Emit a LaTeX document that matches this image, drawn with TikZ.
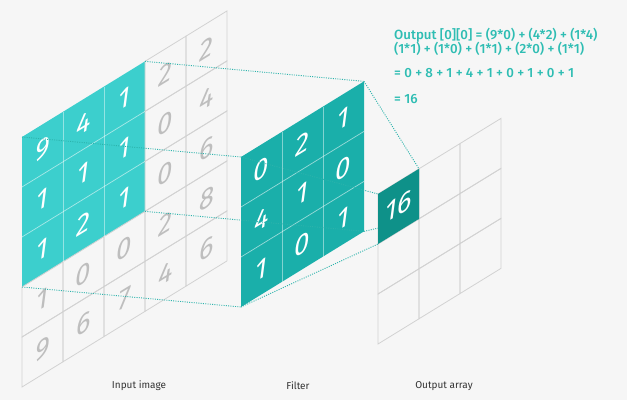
\documentclass[tikz,border=0pt]{standalone}
\usepackage{fontspec}
\setmainfont{Fira Sans}
\newfontfamily\digitfont{Fira Sans Italic}
\newfontfamily\formulafont{Fira Sans Medium}
\usetikzlibrary{positioning}
\definecolor{bggray}{HTML}{F6F6F6}
\definecolor{gridgray}{HTML}{D2D2D2}
\definecolor{digitgray}{HTML}{BEBEBE}
\definecolor{tealin}{HTML}{3CCFCD}
\definecolor{tealflt}{HTML}{1AAFAA}
\definecolor{tealout}{HTML}{0E9189}
\definecolor{textteal}{HTML}{2EBDB3}
\definecolor{guideteal}{HTML}{2BB3AC}
\definecolor{labelgray}{HTML}{333333}
\tikzset{
	cell/.style={minimum width=41pt, minimum height=50pt, inner sep=0pt, outer sep=0pt,
		font=\digitfont\fontsize{27.5}{27.5}\selectfont},
	graycell/.style={cell, draw=gridgray, line width=0.8pt, text=digitgray},
	tealcell/.style={cell, fill=#1, text=white},
	incell/.style={tealcell=tealin},
	innerline/.style={draw=white, draw opacity=0.45, line width=0.8pt},
	guide/.style={draw=guideteal, line width=0.9pt, dash pattern=on 1pt off 1.3pt},
	caption/.style={font=\fontsize{10}{12}\selectfont, text=labelgray},
	formula/.style={anchor=base west, inner sep=0pt, text=textteal,
		font=\formulafont\fontsize{13.3}{15}\selectfont},
}

\begin{document}
\begin{tikzpicture}[x=1pt, y=-1pt]
% the background
\fill[bggray] (0,0) rectangle (627,400);
\useasboundingbox (0,0) rectangle (627,400);

% the input image
\begin{scope}[shift={(22,137)}, yslant=0.615, transform shape]
\foreach \vals [count=\r] in {{9,4,1,2,2},{1,1,1,0,4},{1,2,1,0,6},{1,0,0,2,8},{9,6,7,4,6}}
	\foreach \v [count=\c] in \vals {
		\def\sty{graycell}
		\ifnum\r<4 \ifnum\c<4 \def\sty{incell}\fi\fi
		\node[\sty] (in-\r-\c) at ({(\c-0.5)*41},{(\r-0.5)*50}) {\v};
	}
\draw[innerline] (in-1-1.north east) -- (in-3-1.south east);
\draw[innerline] (in-1-2.north east) -- (in-3-2.south east);
\draw[innerline] (in-1-1.south west) -- (in-1-3.south east);
\draw[innerline] (in-2-1.south west) -- (in-2-3.south east);
\end{scope}

% the filter
\begin{scope}[shift={(241,157)}, yslant=0.615, transform shape]
\foreach \vals [count=\r] in {{0,2,1},{4,1,0},{1,0,1}}
	\foreach \v [count=\c] in \vals
		\node[tealcell=tealflt] (flt-\r-\c) at ({(\c-0.5)*41},{(\r-0.5)*50}) {\v};
\draw[innerline] (flt-1-1.north east) -- (flt-3-1.south east);
\draw[innerline] (flt-1-2.north east) -- (flt-3-2.south east);
\draw[innerline] (flt-1-1.south west) -- (flt-1-3.south east);
\draw[innerline] (flt-2-1.south west) -- (flt-2-3.south east);
\end{scope}

% the output array
\begin{scope}[shift={(378,194)}, yslant=0.615, transform shape]
\foreach \r in {1,2,3}
	\foreach \c in {1,2,3}
		\node[graycell] (out-\r-\c) at ({(\c-0.5)*41},{(\r-0.5)*50}) {};
\end{scope}

% the dotted guides
\draw[guide] (in-1-1.north west) -- (flt-1-1.north west);
\draw[guide] (in-1-3.north east) -- (flt-1-3.north east);
\draw[guide] (in-3-3.south east) -- (flt-3-3.south east);
\draw[guide] (in-3-1.south west) -- (flt-3-1.south west);
\draw[guide] (flt-1-1.north west) -- (out-1-1.north west);
\draw[guide] (flt-1-3.north east) -- (out-1-1.north east);
\draw[guide] (flt-3-3.south east) -- (out-1-1.south east);
\draw[guide] (flt-3-1.south west) -- (out-1-1.south west);

% the result
\begin{scope}[yslant=0.615, transform shape]
\node[tealcell=tealout] (res) at (out-1-1) {16};
\end{scope}

% the formula
\node[formula] (f1) at (394,39) {Output [0][0] = (9*0) + (4*2) + (1*4)};
\node[formula] (f2) at (394,53) {(1*1) + (1*0) + (1*1) + (2*0) + (1*1)};
\node[formula] (f3) at (394,77) {= 0 + 8 + 1 + 4 + 1 + 0 + 1 + 0 + 1};
\node[formula] (f4) at (394,103) {= 16};

% the names
\node[caption] (lin) at (139,386) {Input image};
\node[caption] (lflt) at (298,386) {Filter};
\node[caption] (lout) at (444,386) {Output array};
\end{tikzpicture}
\end{document}
